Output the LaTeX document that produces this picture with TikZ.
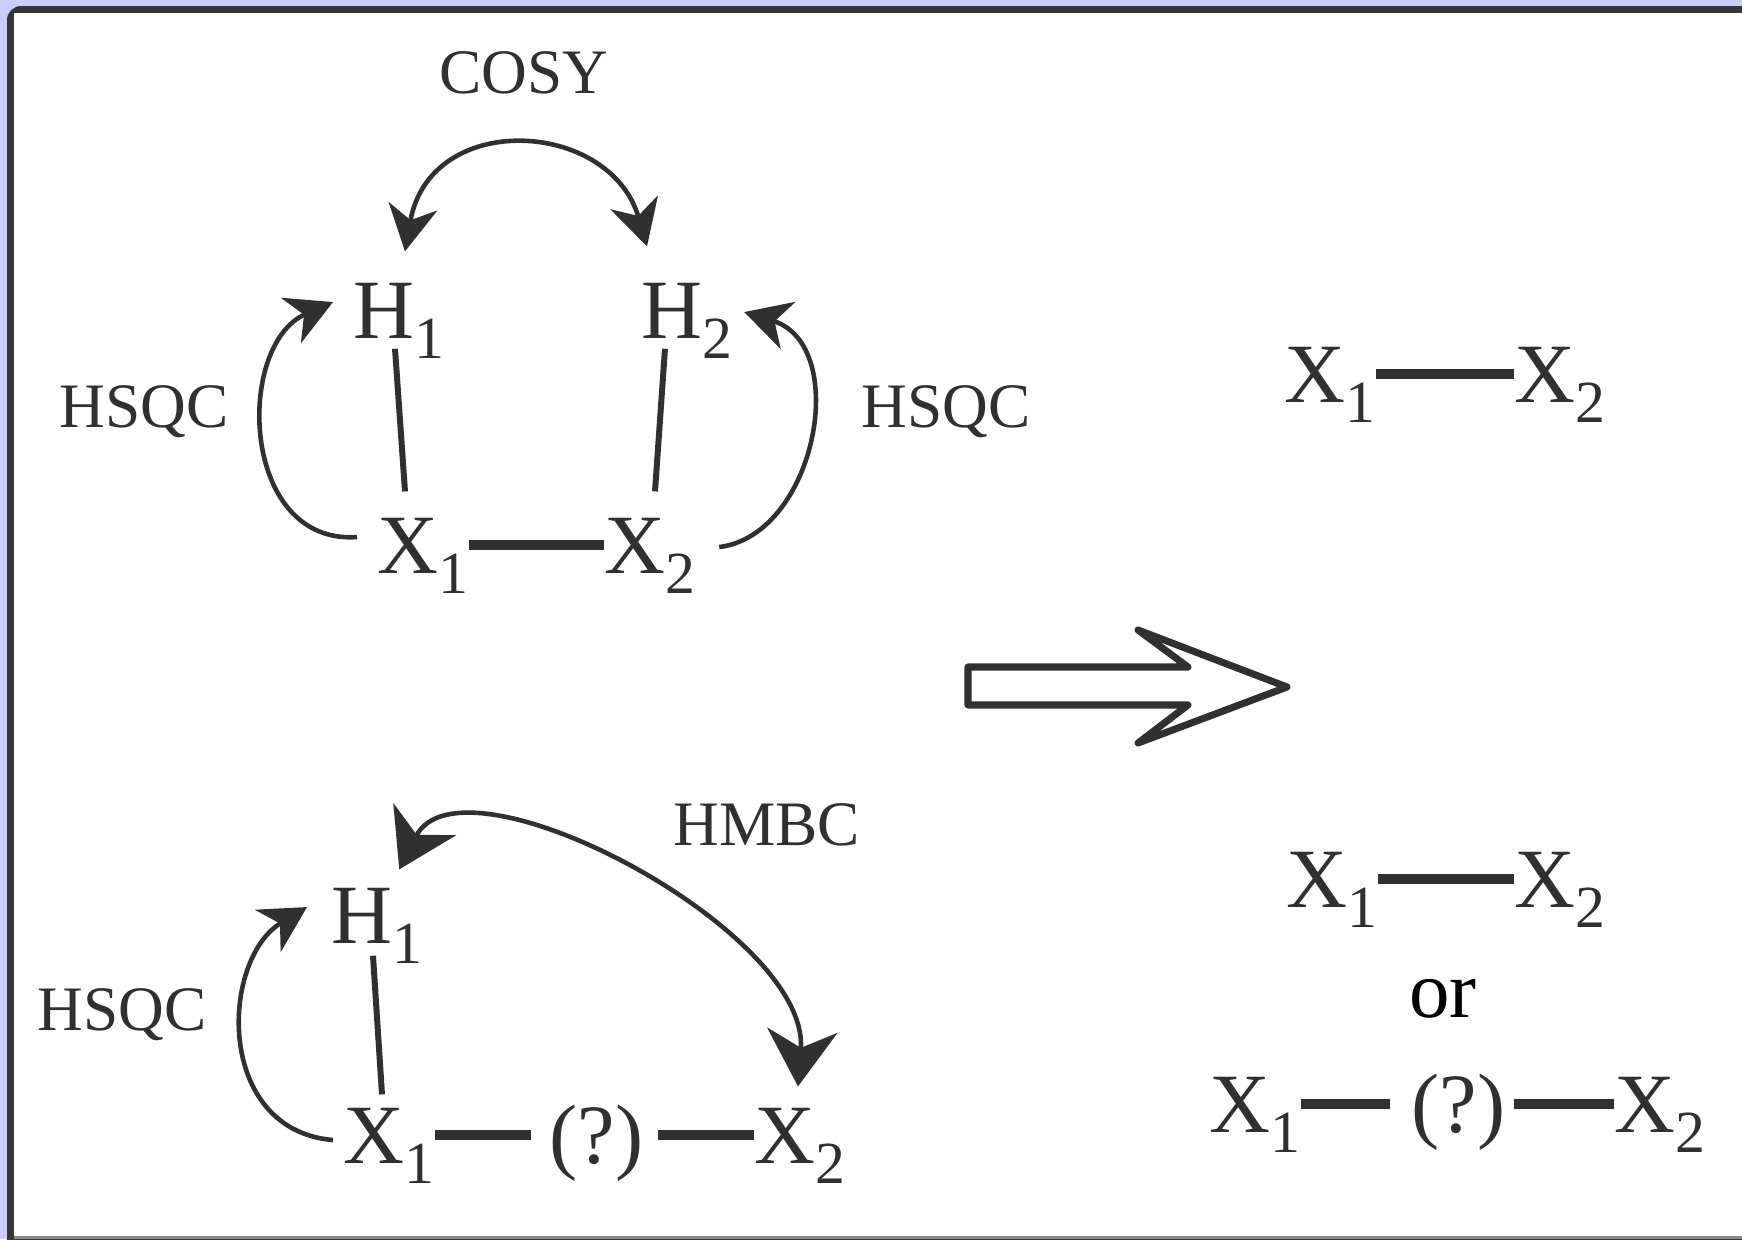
\documentclass[tikz,border=0pt]{standalone}
\usepackage{fontspec}
\setmainfont{Liberation Serif}
\usetikzlibrary{arrows.meta,calc}
\definecolor{nmrink}{HTML}{303030}
\definecolor{nmrframe}{HTML}{363636}
\definecolor{nmrlilac}{HTML}{CCCCFF}
\definecolor{nmrrule}{HTML}{8A8A8A}
\newcommand{\lowidx}[1]{\raisebox{-5.7pt}{\fontsize{17}{17}\selectfont #1}}
\tikzset{
  atom/.style={font=\fontsize{24}{28}\selectfont, text=nmrink, inner sep=0pt,
    text height=15.9pt, text depth=0pt, anchor=base west},
  tag/.style={font=\fontsize{18}{22}\selectfont, text=nmrink, inner sep=0pt, anchor=base},
  bond/.style={draw=nmrink, line width=2.6pt},
  link/.style={draw=nmrink, line width=1.7pt},
  corr/.style={draw=nmrink, line width=1.3pt,
    -{Stealth[length=13pt, width=14pt, inset=4pt]}},
  corrboth/.style={draw=nmrink, line width=1.3pt,
    {Stealth[length=13pt, width=14pt, inset=4pt]}-{Stealth[length=13pt, width=14pt, inset=4pt]}},
  corrwide/.style={draw=nmrink, line width=1.3pt,
    {Stealth[length=16pt, width=20pt, inset=5pt]}-{Stealth[length=16pt, width=20pt, inset=5pt]}}
}

\begin{document}
\begin{tikzpicture}[x=0.01cm, y=-0.01cm]
  \useasboundingbox (0,0) rectangle (1742,1239);
  \clip (0,0) rectangle (1742,1239);
  \fill[nmrlilac] (0,0) rectangle (1742,1239);
  \fill[nmrframe, rounded corners=4pt] (7,6) rectangle (1790,1290);
  \fill[white] (14,13) rectangle (1742,1236);
  \fill[nmrrule] (14,1236) rectangle (1742,1239);

  \node[atom] (h1a) at (353,338) {H\lowidx{1}};
  \node[atom] (h2a) at (641,338) {H\lowidx{2}};
  \node[atom] (x1a) at (377,573) {X\lowidx{1}};
  \node[atom] (x2a) at (604,573) {X\lowidx{2}};
  \node[tag] (cosy) at (524,93) {COSY};
  \node[tag] (hsqca) at (144,427) {HSQC};
  \node[tag] (hsqcb) at (946,427) {HSQC};
  \draw[bond] (x1a.east) -- (x2a.west);
  \draw[link] ([shift={(42,10)}]h1a.south west) -- ([shift={(28,-25)}]x1a.north west);
  \draw[link] ([shift={(24,10)}]h2a.south west) -- ([shift={(51,-25)}]x2a.north west);
  \draw[corrboth] ([shift={(52,-30)}]h1a.north west)
    .. controls +(25,-142) and +(-37,-127) .. ([shift={(6,-35)}]h2a.north west);
  \draw[corr] ([shift={(-20,-8)}]x1a.west)
    .. controls +(-117,8) and +(-98,43) .. ([shift={(-20,-8)}]h1a.west);
  \draw[corr] ([shift={(23,2)}]x2a.east)
    .. controls +(97,-12) and +(107,33) .. ([shift={(11,2)}]h2a.east);

  \node[atom] (h1b) at (331,943) {H\lowidx{1}};
  \node[atom] (x1b) at (343,1163) {X\lowidx{1}};
  \node[atom] (qb) at (549,1163) {(?)};
  \node[atom] (x2b) at (754,1163) {X\lowidx{2}};
  \node[tag] (hmbc) at (767,845) {HMBC};
  \node[tag] (hsqcc) at (122,1030) {HSQC};
  \draw[bond] (x1b.east) -- ([shift={(-18,0)}]qb.west);
  \draw[bond] ([shift={(14,0)}]qb.east) -- (x2b.west);
  \draw[link] ([shift={(42,12)}]h1b.south west) -- ([shift={(39,-12)}]x1b.north west);
  \draw[corr] ([shift={(-10,5)}]x1b.west)
    .. controls +(-118,-10) and +(-87,53) .. ([shift={(-24,-8)}]h1b.west);
  \draw[corrwide] ([shift={(-24,-17)}]h1b.north east)
    .. controls +(62,-122) and +(12,-157) .. ([shift={(44,-20)}]x2b.north west);

  \draw[nmrink, line width=2pt, line join=round]
    (968,667) -- (1188,667) -- (1138,630) -- (1287,687) -- (1138,743) -- (1188,705) -- (968,705) -- cycle;

  \node[atom] (x1c) at (1284,402) {X\lowidx{1}};
  \node[atom] (x2c) at (1514,402) {X\lowidx{2}};
  \draw[bond] (x1c.east) -- (x2c.west);

  \node[atom] (x1d) at (1286,907) {X\lowidx{1}};
  \node[atom] (x2d) at (1514,907) {X\lowidx{2}};
  \draw[bond] (x1d.east) -- (x2d.west);
  \node[font=\fontsize{23}{27}\selectfont, inner sep=0pt, anchor=base] (ortext) at (1443,1017) {or};

  \node[atom] (x1e) at (1209,1132) {X\lowidx{1}};
  \node[atom] (qe) at (1411,1132) {(?)};
  \node[atom] (x2e) at (1614,1132) {X\lowidx{2}};
  \draw[bond] (x1e.east) -- ([shift={(-21,0)}]qe.west);
  \draw[bond] ([shift={(8,0)}]qe.east) -- (x2e.west);
\end{tikzpicture}
\end{document}
